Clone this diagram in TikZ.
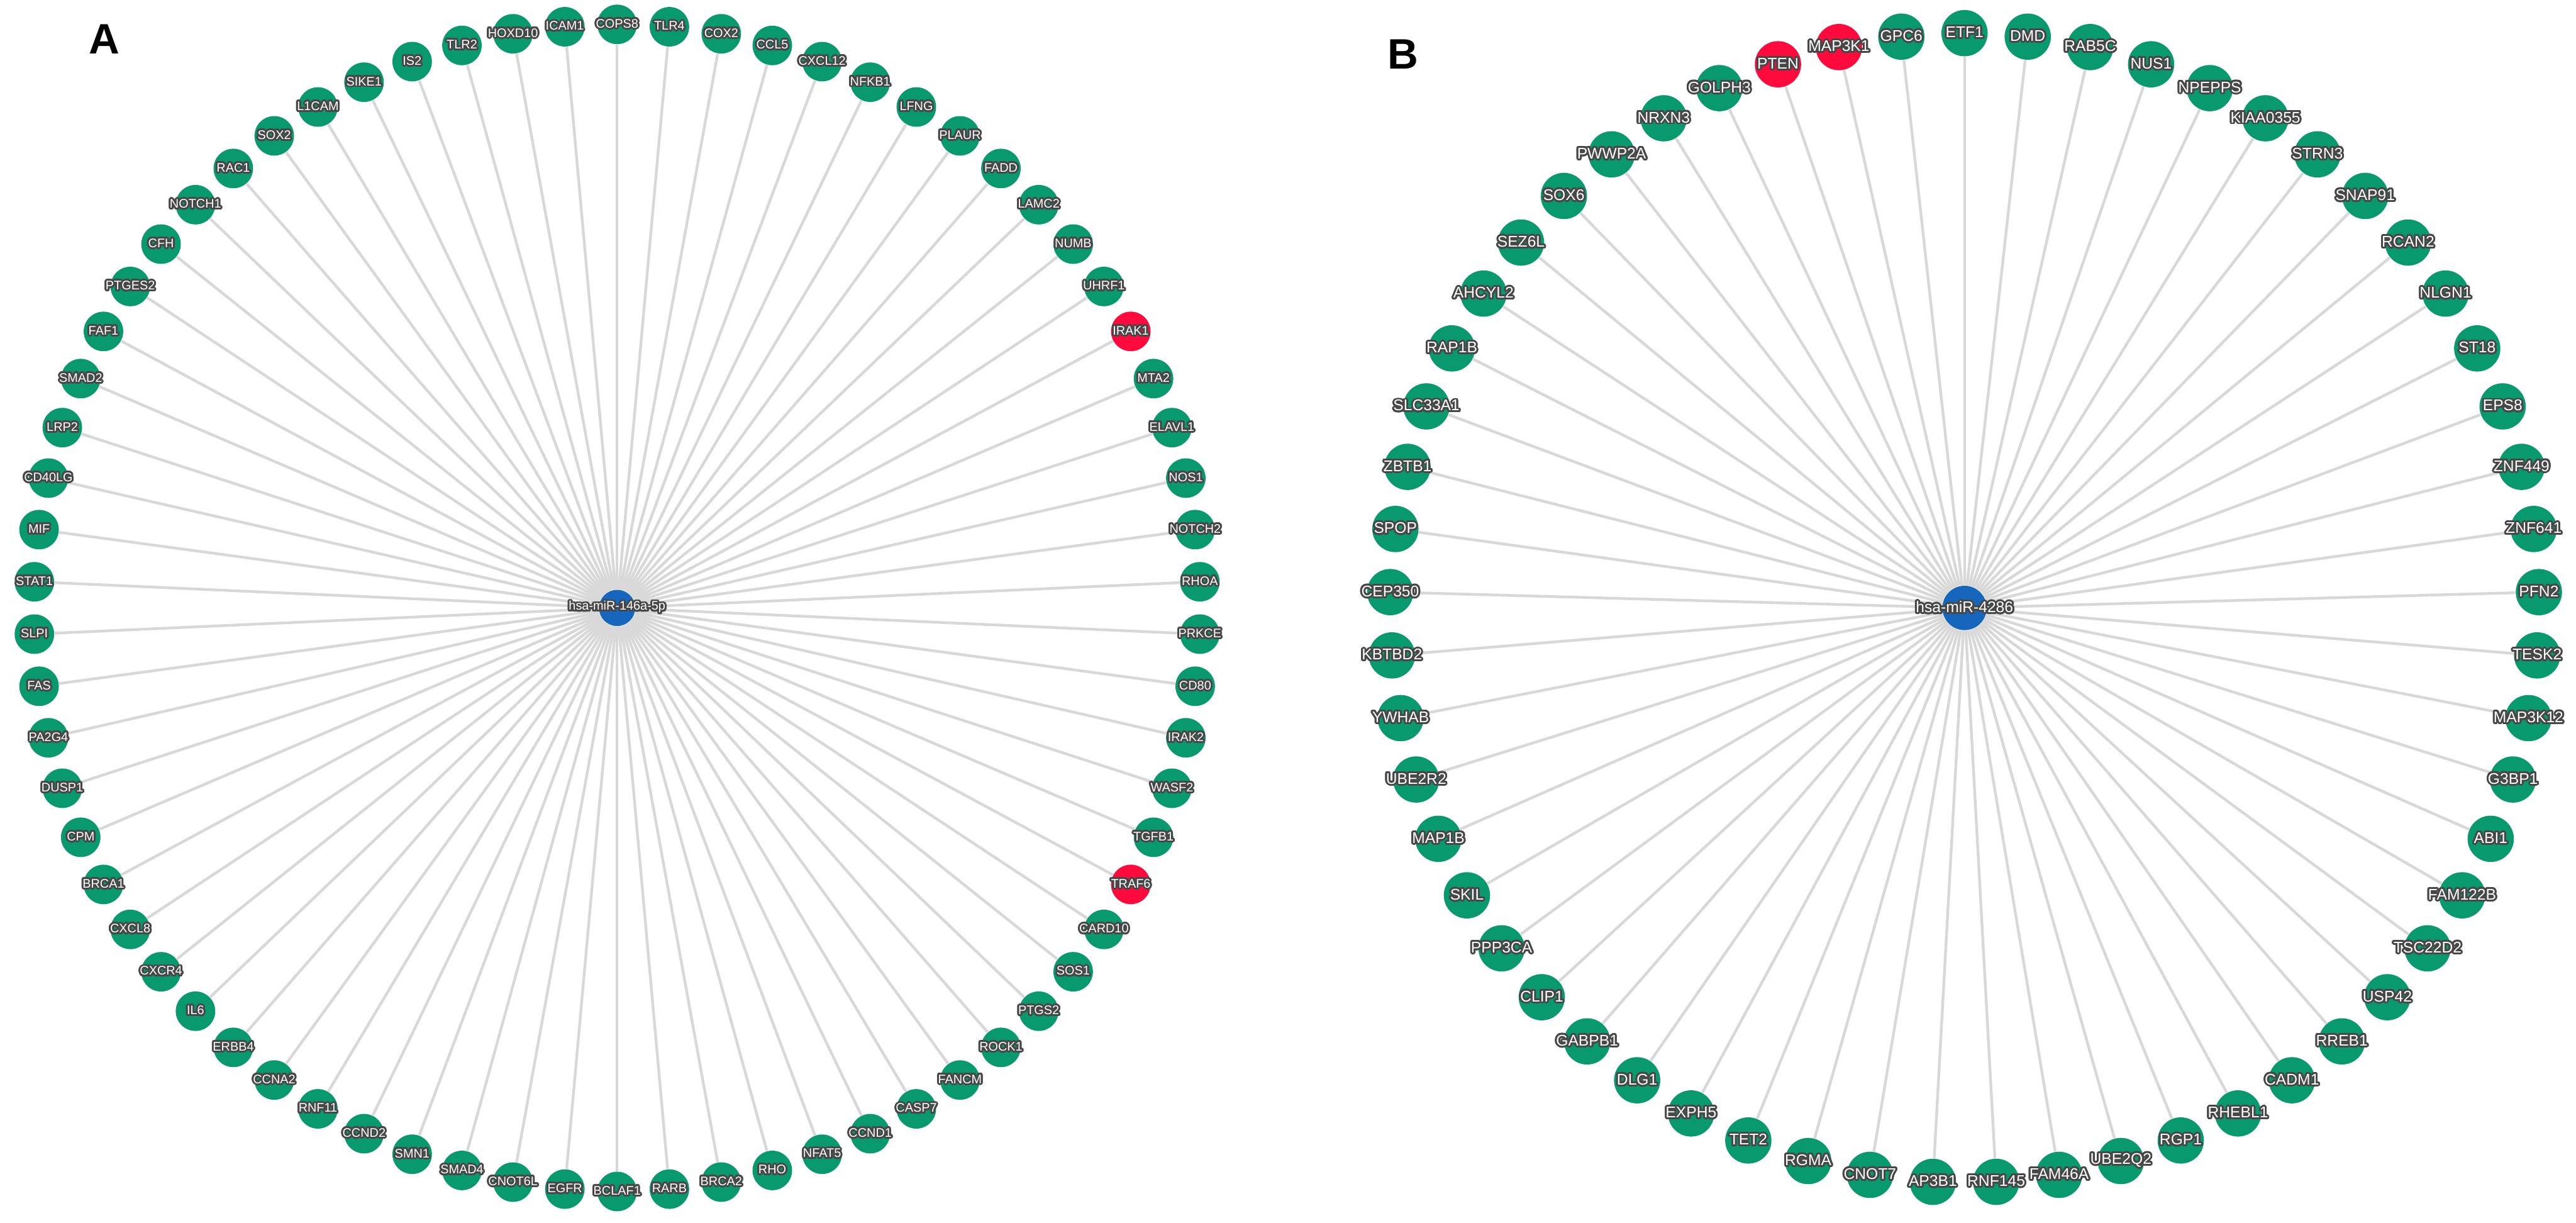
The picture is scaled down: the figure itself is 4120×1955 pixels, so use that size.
\documentclass[tikz,border=0pt]{standalone}
\usepackage{fontspec}
\setmainfont{Liberation Sans}
\usepackage[copies]{contour}
\contourlength{0.75pt}
\contournumber{24}
\usetikzlibrary{backgrounds}
\definecolor{gn}{HTML}{09996F}
\definecolor{rd}{HTML}{FF0A3C}
\definecolor{bl}{HTML}{1766BE}
\definecolor{edgegray}{HTML}{D8D8D8}
\definecolor{lblgray}{HTML}{474747}
\tikzset{
  nodeA/.style={circle, draw=none, inner sep=0pt, minimum size=15.8pt},
  nodeB/.style={circle, draw=none, inner sep=0pt, minimum size=18.5pt},
  hubA/.style={circle, draw=none, fill=bl, inner sep=0pt, minimum size=14.5pt},
  hubB/.style={circle, draw=none, fill=bl, inner sep=0pt, minimum size=17.75pt},
  lblA/.style={text=white, inner sep=0pt, font=\fontsize{5}{5}\selectfont},
  lblB/.style={text=white, inner sep=0pt, font=\fontsize{6.2}{6.2}\selectfont},
  edgeline/.style={draw=edgegray, line width=1.1pt},
  panel/.style={inner sep=0pt, font=\bfseries\fontsize{17}{17}\selectfont}
}
\begin{document}
\begin{tikzpicture}[x=0.25pt, y=-0.25pt]
\useasboundingbox (0,0) rectangle (4120,1955);

% ---------- Panel A ----------
\node[panel] (labA) at (167,63) {A};
\node[hubA] (ac) at (987,972) {};
\foreach \nm/\cl [count=\i from 0] in {COPS8/gn, TLR4/gn, COX2/gn, CCL5/gn, CXCL12/gn, NFKB1/gn, LFNG/gn, PLAUR/gn, FADD/gn, LAMC2/gn, NUMB/gn, UHRF1/gn, IRAK1/rd, MTA2/gn, ELAVL1/gn, NOS1/gn, NOTCH2/gn, RHOA/gn, PRKCE/gn, CD80/gn, IRAK2/gn, WASF2/gn, TGFB1/gn, TRAF6/rd, CARD10/gn, SOS1/gn, PTGS2/gn, ROCK1/gn, FANCM/gn, CASP7/gn, CCND1/gn, NFAT5/gn, RHO/gn, BRCA2/gn, RARB/gn, BCLAF1/gn, EGFR/gn, CNOT6L/gn, SMAD4/gn, SMN1/gn, CCND2/gn, RNF11/gn, CCNA2/gn, ERBB4/gn, IL6/gn, CXCR4/gn, CXCL8/gn, BRCA1/gn, CPM/gn, DUSP1/gn, PA2G4/gn, FAS/gn, SLPI/gn, STAT1/gn, MIF/gn, CD40LG/gn, LRP2/gn, SMAD2/gn, FAF1/gn, PTGES2/gn, CFH/gn, NOTCH1/gn, RAC1/gn, SOX2/gn, L1CAM/gn, SIKE1/gn, IS2/gn, TLR2/gn, HOXD10/gn, ICAM1/gn}{
  \pgfmathsetmacro\ang{90-\i*5.142857}
  \node[nodeA, fill=\cl] (a\i) at ({987+933*cos(\ang)},{972-933*sin(\ang)}) {};
  \node[lblA] (la\i) at (a\i) {\contour{lblgray}{\nm}};
}
\begin{scope}[on background layer]
  \foreach \i in {0,...,69} {\draw[edgeline] (ac) -- (a\i);}
\end{scope}
\node[lblA] (lac) at (ac) {\contour{lblgray}{hsa-miR-146a-5p}};

% ---------- Panel B ----------
\node[panel] (labB) at (2244,87) {B};
\node[hubB] (bc) at (3142,972) {};
\foreach \nm/\cl [count=\i from 0] in {ETF1/gn, DMD/gn, RAB5C/gn, NUS1/gn, NPEPPS/gn, KIAA0355/gn, STRN3/gn, SNAP91/gn, RCAN2/gn, NLGN1/gn, ST18/gn, EPS8/gn, ZNF449/gn, ZNF641/gn, PFN2/gn, TESK2/gn, MAP3K12/gn, G3BP1/gn, ABI1/gn, FAM122B/gn, TSC22D2/gn, USP42/gn, RREB1/gn, CADM1/gn, RHEBL1/gn, RGP1/gn, UBE2Q2/gn, FAM46A/gn, RNF145/gn, AP3B1/gn, CNOT7/gn, RGMA/gn, TET2/gn, EXPH5/gn, DLG1/gn, GABPB1/gn, CLIP1/gn, PPP3CA/gn, SKIL/gn, MAP1B/gn, UBE2R2/gn, YWHAB/gn, KBTBD2/gn, CEP350/gn, SPOP/gn, ZBTB1/gn, SLC33A1/gn, RAP1B/gn, AHCYL2/gn, SEZ6L/gn, SOX6/gn, PWWP2A/gn, NRXN3/gn, GOLPH3/gn, PTEN/rd, MAP3K1/rd, GPC6/gn}{
  \pgfmathsetmacro\ang{90-\i*6.315789}
  \node[nodeB, fill=\cl] (b\i) at ({3142+919*cos(\ang)},{972-919*sin(\ang)}) {};
  \node[lblB] (lb\i) at (b\i) {\contour{lblgray}{\nm}};
}
\begin{scope}[on background layer]
  \foreach \i in {0,...,56} {\draw[edgeline] (bc) -- (b\i);}
\end{scope}
\node[lblB] (lbc) at (bc) {\contour{lblgray}{hsa-miR-4286}};
\end{tikzpicture}
\end{document}
